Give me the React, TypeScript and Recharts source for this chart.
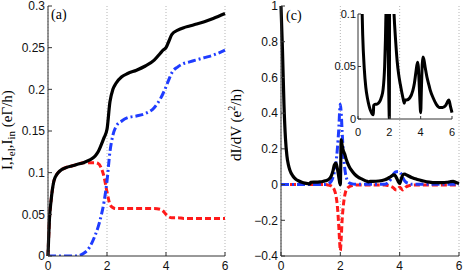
import { LineChart, Line, XAxis, YAxis, CartesianGrid } from "recharts"

// panel (a): current vs bias
const biasA = [0, 0.02, 0.05, 0.1, 0.15, 0.2, 0.3, 0.4, 0.6, 0.8, 1.0, 1.2, 1.4, 1.6, 1.7, 1.8, 1.9, 2.0, 2.1, 2.2, 2.3, 2.5, 2.7, 3.0, 3.3, 3.6, 3.8, 3.9, 4.0, 4.1, 4.2, 4.4, 4.6, 4.8, 5.0, 5.3, 5.6, 6.0]
const currentTotal = [0, 0.02, 0.045, 0.065, 0.08, 0.09, 0.098, 0.102, 0.106, 0.108, 0.11, 0.112, 0.115, 0.12, 0.125, 0.133, 0.142, 0.152, 0.185, 0.2, 0.207, 0.215, 0.219, 0.223, 0.228, 0.235, 0.243, 0.247, 0.25, 0.258, 0.266, 0.271, 0.274, 0.276, 0.278, 0.281, 0.285, 0.291]
const currentEl = [0, 0.02, 0.045, 0.065, 0.08, 0.09, 0.098, 0.102, 0.106, 0.108, 0.11, 0.112, 0.112, 0.112, 0.111, 0.106, 0.095, 0.077, 0.062, 0.058, 0.057, 0.057, 0.057, 0.057, 0.057, 0.057, 0.056, 0.054, 0.05, 0.047, 0.046, 0.046, 0.045, 0.045, 0.045, 0.045, 0.045, 0.045]
const currentIn = [0, 0, 0, 0, 0, 0, 0, 0, 0, 0, 0, 0.003, 0.01, 0.025, 0.035, 0.048, 0.065, 0.09, 0.125, 0.145, 0.155, 0.162, 0.166, 0.168, 0.171, 0.178, 0.188, 0.195, 0.203, 0.212, 0.22, 0.227, 0.231, 0.233, 0.235, 0.238, 0.241, 0.247]

// panel (c): differential conductance
const biasC = [0, 0.05, 0.1, 0.15, 0.2, 0.25, 0.3, 0.4, 0.5, 0.6, 0.7, 0.8, 0.9, 0.98, 1.0, 1.1, 1.2, 1.3, 1.4, 1.5, 1.6, 1.7, 1.75, 1.8, 1.85, 1.9, 1.95, 1.98, 2.0, 2.03, 2.06, 2.1, 2.15, 2.2, 2.3, 2.4, 2.5, 2.6, 2.7, 2.8, 2.9, 2.95, 3.0, 3.1, 3.3, 3.5, 3.6, 3.7, 3.8, 3.85, 3.9, 3.95, 4.0, 4.05, 4.1, 4.15, 4.2, 4.3, 4.4, 4.5, 4.6, 4.8, 5.0, 5.2, 5.4, 5.6, 5.7, 5.8, 5.9, 6.0]
const condTotal = [1.0, 0.75, 0.45, 0.26, 0.16, 0.11, 0.08, 0.048, 0.03, 0.02, 0.013, 0.008, 0.005, 0.004, 0.013, 0.014, 0.014, 0.015, 0.017, 0.021, 0.028, 0.05, 0.075, 0.11, 0.12, 0.09, 0.04, 0.01, 0.0, 0.25, 0.22, 0.19, 0.17, 0.14, 0.1, 0.075, 0.055, 0.042, 0.033, 0.025, 0.018, 0.015, 0.018, 0.018, 0.02, 0.027, 0.034, 0.045, 0.054, 0.05, 0.035, 0.018, 0.006, 0.03, 0.052, 0.059, 0.057, 0.048, 0.04, 0.034, 0.028, 0.02, 0.014, 0.011, 0.011, 0.013, 0.016, 0.018, 0.012, 0.006]
const condEl = [0, 0, 0, 0, 0, 0, 0, 0, 0, 0, 0, 0, 0, 0, 0, 0, 0, 0, 0, 0, -0.003, -0.008, -0.015, -0.03, -0.06, -0.12, -0.24, -0.33, -0.37, -0.3, -0.2, -0.12, -0.06, -0.03, -0.012, -0.006, -0.003, -0.003, -0.003, -0.003, -0.003, -0.003, -0.003, -0.003, -0.003, -0.003, -0.005, -0.01, -0.02, -0.028, -0.03, -0.022, -0.015, -0.022, -0.03, -0.025, -0.015, -0.007, -0.004, -0.003, -0.003, -0.003, -0.003, -0.003, -0.003, -0.003, -0.003, -0.003, -0.003, -0.003]
const condIn = [0, 0, 0, 0, 0, 0, 0, 0, 0, 0, 0, 0, 0, 0, 0, 0, 0, 0, 0, 0, 0.005, 0.02, 0.04, 0.07, 0.12, 0.2, 0.32, 0.42, 0.45, 0.4, 0.3, 0.18, 0.09, 0.04, 0.01, 0.004, 0.002, 0.002, 0.002, 0.002, 0.002, 0.002, 0.002, 0.002, 0.002, 0.002, 0.01, 0.03, 0.06, 0.07, 0.072, 0.073, 0.072, 0.06, 0.04, 0.025, 0.015, 0.006, 0.002, 0.002, 0.002, 0.002, 0.002, 0.002, 0.002, 0.002, 0.002, 0.002, 0.002, 0.002]

const xTicks = [0, 2, 4, 6]
const yTicksA = [0, 0.05, 0.1, 0.15, 0.2, 0.25, 0.3]
const yTicksC = [-0.4, -0.2, 0, 0.2, 0.4, 0.6, 0.8, 1]
const yTicksInset = [0, 0.05, 0.1]

const dataA = biasA.map((v, i) => ({ v, total: currentTotal[i], el: currentEl[i], inel: currentIn[i] }))
const dataC = biasC.map((v, i) => ({ v, total: condTotal[i], el: condEl[i], inel: condIn[i] }))

const FRAME = "#333"
const sans = "'Liberation Sans', Arial, sans-serif"
const serif = "'Liberation Serif', 'Times New Roman', serif"
const fmtMinus = (t: number) => (t < 0 ? "\u2212" + String(-t) : String(t))
const blank = () => ""

function frame(yDomain: number[], yTicks: number[], opts: { xH: number; yW: number; fs: number; xMargin: number; yMargin: number; tick: number; yFmt?: (t: number) => string }) {
  const tickStyle = { fontSize: opts.fs, fill: "#111", fontFamily: sans }
  return [
    <XAxis key="xb" dataKey="v" type="number" domain={[0, 6]} ticks={xTicks} height={opts.xH}
      stroke={FRAME} tickSize={-opts.tick} tickMargin={opts.xMargin} tick={tickStyle} interval={0} />,
    <XAxis key="xt" xAxisId="top" orientation="top" dataKey="v" type="number" domain={[0, 6]} ticks={xTicks}
      height={0} stroke={FRAME} tickSize={-opts.tick} tickFormatter={blank} />,
    <YAxis key="yl" type="number" domain={yDomain} ticks={yTicks} width={opts.yW} allowDataOverflow
      stroke={FRAME} tickSize={-opts.tick} tickMargin={opts.yMargin} tick={tickStyle} interval={0}
      tickFormatter={opts.yFmt} />,
    <YAxis key="yr" yAxisId="right" orientation="right" type="number" domain={yDomain} ticks={yTicks}
      width={0} stroke={FRAME} tickSize={-opts.tick} tickFormatter={blank} />,
  ]
}

function series() {
  return [
    <Line key="el" dataKey="el" stroke="#ff1a1a" strokeWidth={3} strokeDasharray="6 3" dot={false} type="monotone" isAnimationActive={false} />,
    <Line key="in" dataKey="inel" stroke="#1f3cff" strokeWidth={3} strokeDasharray="8 3 2 3" dot={false} type="monotone" isAnimationActive={false} />,
    <Line key="tot" dataKey="total" stroke="#000" strokeWidth={3.2} dot={false} type="monotone" isAnimationActive={false} />,
  ]
}

export default function App() {
  return (
    <div style={{ position: "fixed", left: 0, top: 0, width: 463, height: 273, background: "#fff", overflow: "hidden" }}>
      <div style={{ position: "absolute", left: 0, top: 0 }}>
        <LineChart width={230} height={273} data={dataA} margin={{ top: 6, right: 5, left: 0, bottom: 0 }}>
          <CartesianGrid horizontal={false} stroke="#b5b5b5" strokeDasharray="1 2" />
          {frame([0, 0.3], yTicksA, { xH: 17, yW: 48, fs: 12, xMargin: 9, yMargin: 7, tick: 4 })}
          {series()}
        </LineChart>
      </div>
      <div style={{ position: "absolute", left: 230, top: 0 }}>
        <LineChart width={233} height={273} data={dataC} margin={{ top: 6, right: 4, left: 0, bottom: 0 }}>
          <CartesianGrid horizontal={false} stroke="#b5b5b5" strokeDasharray="1 2" />
          {frame([-0.4, 1], yTicksC, { xH: 17, yW: 51, fs: 12, xMargin: 9, yMargin: 7, tick: 4, yFmt: fmtMinus })}
          {series()}
        </LineChart>
      </div>
      <div style={{ position: "absolute", left: 320, top: 0 }}>
        <LineChart width={140} height={140} data={dataC} margin={{ top: 14, right: 8, left: 0, bottom: 0 }}>
          {frame([0, 0.1], yTicksInset, { xH: 21, yW: 38, fs: 11, xMargin: 12, yMargin: 5, tick: 3 })}
          <Line dataKey="total" stroke="#000" strokeWidth={3} dot={false} type="monotone" isAnimationActive={false} />
        </LineChart>
      </div>
      <svg width={463} height={273} style={{ position: "absolute", left: 0, top: 0, pointerEvents: "none" }}>
        <text x={51} y={19} fontFamily={serif} fontSize={14}>(a)</text>
        <text x={286} y={20} fontFamily={serif} fontSize={14}>(c)</text>
        <text x={12} y={130} fontFamily={serif} fontSize={15} textAnchor="middle" transform="rotate(-90 12 130)">
          I,I<tspan fontSize={11} dy={3}>el</tspan><tspan dy={-3}>,I</tspan><tspan fontSize={11} dy={3}>in</tspan><tspan dy={-3}> (eΓ/h)</tspan>
        </text>
        <text x={241} y={125} fontFamily={serif} fontSize={15} textAnchor="middle" transform="rotate(-90 241 125)">
          dI/dV (e<tspan fontSize={10} dy={-6}>2</tspan><tspan dy={6}>/h)</tspan>
        </text>
      </svg>
    </div>
  )
}
